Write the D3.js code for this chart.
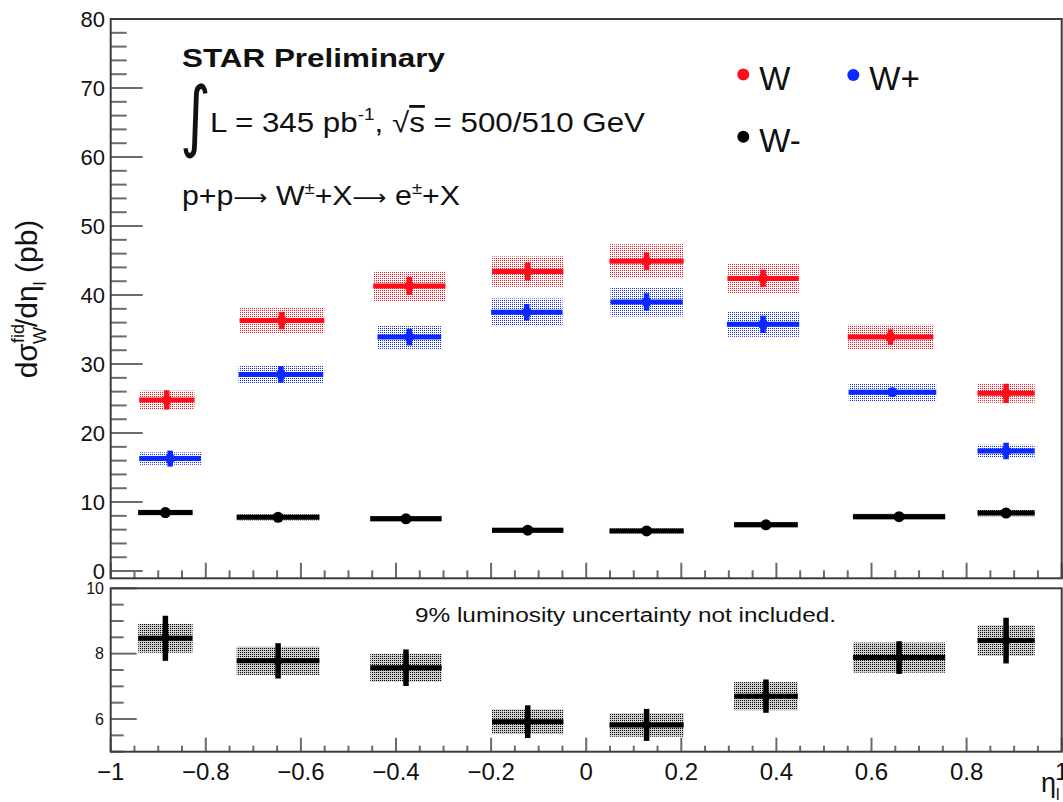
<!DOCTYPE html>
<html><head><meta charset="utf-8">
<script src="https://cdn.jsdelivr.net/npm/d3@7"></script>
<style>
html,body{margin:0;padding:0;background:#fff;}
svg{display:block;font-family:"Liberation Sans",Arial,Helvetica,sans-serif;}
</style></head>
<body><svg id="c" width="1063" height="802"></svg>
<script>
// ---- data ----
// W (red)
const etaW   = [-0.882,-0.640,-0.372,-0.123,0.127,0.372,0.640,0.883];
const exW    = [0.058,0.089,0.076,0.075,0.078,0.075,0.090,0.060];
const valW   = [24.8,36.3,41.3,43.4,44.9,42.4,33.9,25.75];
const statW  = [1.4,1.26,1.3,1.3,1.26,1.26,1.13,1.4];
const sysW   = [1.35,1.9,2.2,2.2,2.46,2.25,1.8,1.35];
// W+ (blue)
const etaWp  = [-0.875,-0.642,-0.372,-0.125,0.127,0.372,0.644,0.883];
const exWp   = [0.065,0.089,0.067,0.075,0.076,0.076,0.092,0.060];
const valWp  = [16.3,28.5,33.9,37.5,39.0,35.75,25.9,17.4];
const statWp = [1.16,1.2,1.2,1.2,1.26,1.26,0.6,1.2];
const sysWp  = [0.9,1.3,1.7,2.0,2.1,1.8,1.3,0.9];
// W- (black)
const etaWm  = [-0.885,-0.648,-0.379,-0.123,0.127,0.378,0.658,0.883];
const exWm   = [0.057,0.087,0.075,0.075,0.078,0.067,0.097,0.060];
const valWm  = [8.47,7.78,7.57,5.92,5.82,6.70,7.88,8.40];
const statWm = [0.69,0.54,0.56,0.50,0.49,0.51,0.50,0.70];
const sysWm  = [0.44,0.43,0.43,0.38,0.36,0.43,0.46,0.47];
// legend
const legendNames = ["W","W+","W-"];

const RED="#ff0d1a", BLUE="#0a28ff", BLACK="#000";
const svg=d3.select("#c");

const x=d3.scaleLinear().domain([-1,1]).range([110.7,1061.7]);
const yT=d3.scaleLinear().domain([-1.05,80]).range([578.3,19]);
const yB=d3.scaleLinear().domain([5,10]).range([751.7,588.3]);

// dotted fill patterns
const defs=svg.append("defs");
function pat(id,col,bg){
  const p=defs.append("pattern").attr("id",id).attr("patternUnits","userSpaceOnUse").attr("width",2).attr("height",2);
  if(bg) p.append("rect").attr("width",2).attr("height",2).attr("fill",bg);
  p.append("rect").attr("x",0).attr("y",0).attr("width",1).attr("height",1).attr("fill",col);
}
pat("pr",RED);
pat("pb",BLUE);
pat("pk","#000","#cfcfcf");

function series(g,y,eta,ex,val,stat,sys,col,patId,r,lw){
  const d=eta.map((e,i)=>({e,ex:ex[i],v:val[i],s:stat[i],y:sys[i]}));
  g.selectAll(null).data(d).enter().append("rect")
    .attr("x",d=>x(d.e-d.ex)).attr("width",d=>x(d.e+d.ex)-x(d.e-d.ex))
    .attr("y",d=>y(d.v+d.y)).attr("height",d=>y(d.v-d.y)-y(d.v+d.y))
    .attr("fill","url(#"+patId+")");
  g.selectAll(null).data(d).enter().append("line")
    .attr("x1",d=>x(d.e-d.ex)).attr("x2",d=>x(d.e+d.ex))
    .attr("y1",d=>y(d.v)).attr("y2",d=>y(d.v))
    .attr("stroke",col).attr("stroke-width",lw);
  g.selectAll(null).data(d).enter().append("line")
    .attr("x1",d=>x(d.e)).attr("x2",d=>x(d.e))
    .attr("y1",d=>y(d.v-d.s)).attr("y2",d=>y(d.v+d.s))
    .attr("stroke",col).attr("stroke-width",lw+0.5);
  g.selectAll(null).data(d).enter().append("circle")
    .attr("cx",d=>x(d.e)).attr("cy",d=>y(d.v)).attr("r",r).attr("fill",col);
}

const TICK="#6a6a6a", FRAME="#3c3c3c";
function frame(y0,y1){
  svg.append("rect").attr("x",x.range()[0]).attr("y",y1).attr("width",x.range()[1]-x.range()[0])
   .attr("height",y0-y1).attr("fill","none").attr("stroke",FRAME).attr("stroke-width",2);
}

// ---- top panel ----
const gT=svg.append("g");
const xMinor=d3.range(-1,1.0001,0.05), xMajor=d3.ticks(-1,1,10);
function xTicks(yb,majL,minL){
  svg.append("g").selectAll("line").data(xMinor).enter().append("line")
   .attr("x1",d=>x(d)).attr("x2",d=>x(d)).attr("y1",yb).attr("y2",d=>yb-(xMajor.some(m=>Math.abs(m-d)<1e-6)?majL:minL))
   .attr("stroke",TICK).attr("stroke-width",2);
}
xTicks(yT.range()[0],15.5,8);
const yTMinor=d3.range(0,80.001,2), yTMajor=d3.ticks(0,80,8);
svg.append("g").selectAll("line").data(yTMinor).enter().append("line")
  .attr("x1",x.range()[0]).attr("x2",d=>x.range()[0]+(d%10===0?32:16))
  .attr("y1",d=>yT(d)).attr("y2",d=>yT(d)).attr("stroke",TICK).attr("stroke-width",2);
svg.append("g").selectAll("text").data(yTMajor).enter().append("text")
  .attr("x",105).attr("y",d=>yT(d)).attr("dy","0.36em").attr("text-anchor","end")
  .attr("font-size",22).attr("fill","#111").text(d=>d);
frame(yT.range()[0],yT.range()[1]);

series(gT,yT,etaWm,exWm,valWm,statWm,sysWm,BLACK,"pk",5.5,5);
series(gT,yT,etaWp,exWp,valWp,statWp,sysWp,BLUE,"pb",5,5);
series(gT,yT,etaW,exW,valW,statW,sysW,RED,"pr",5,5);

// ---- bottom panel ----
const gB=svg.append("g");
xTicks(yB.range()[0],14,6);
const yBMinor=d3.range(5,10.001,0.5), yBMajor=yB.ticks(3);
svg.append("g").selectAll("line").data(yBMinor).enter().append("line")
  .attr("x1",x.range()[0]).attr("x2",d=>x.range()[0]+(yBMajor.includes(d)?26:13))
  .attr("y1",d=>yB(d)).attr("y2",d=>yB(d)).attr("stroke",TICK).attr("stroke-width",2);
svg.append("g").selectAll("text").data(yBMajor).enter().append("text")
  .attr("x",104).attr("y",d=>yB(d)).attr("dy","0.36em").attr("text-anchor","end")
  .attr("font-size",16).attr("fill","#111").text(d=>d);
frame(yB.range()[0],yB.range()[1]);
series(gB,yB,etaWm,exWm,valWm,statWm,sysWm,BLACK,"pk",4.5,5);

// x labels
const fmt=d3.format("~g");
svg.append("g").selectAll("text").data(xMajor).enter().append("text")
  .attr("x",d=>x(d)).attr("y",780).attr("text-anchor","middle").attr("font-size",24).attr("fill","#111")
  .text(d=>fmt(d));
// x title
const xt=svg.append("text").attr("x",1041).attr("y",792).attr("font-size",27).attr("fill","#111");
xt.append("tspan").text("η");
xt.append("tspan").attr("font-size",16).attr("dy",8).text("l");

// y title
const yt=svg.append("text").attr("transform","translate(37,299) rotate(-90)").attr("text-anchor","middle")
  .attr("font-size",30).attr("fill","#111");
yt.append("tspan").text("dσ");
yt.append("tspan").attr("font-size",18).attr("dy",-13).text("fid");
yt.append("tspan").attr("font-size",18).attr("dx",-20).attr("dy",22).text("W");
yt.append("tspan").attr("dy",-9).text("/dη");
yt.append("tspan").attr("font-size",18).attr("dy",9).text("l");
yt.append("tspan").attr("dy",-9).text(" (pb)");

// annotations
svg.append("text").attr("x",182).attr("y",67).attr("font-size",25).attr("font-weight","bold")
  .attr("textLength",263).attr("lengthAdjust","spacingAndGlyphs").attr("fill","#111").text("STAR Preliminary");
svg.append("text").attr("transform","translate(180,142) scale(0.8,1.05)").attr("font-size",74).attr("font-family","DejaVu Sans")
  .attr("fill","#111").text("∫");
const l2=svg.append("text").attr("x",210).attr("y",132).attr("font-size",28).attr("fill","#111")
  .attr("textLength",435).attr("lengthAdjust","spacingAndGlyphs");
l2.append("tspan").text("L = 345 pb");
l2.append("tspan").attr("font-size",17).attr("dy",-12).text("-1");
l2.append("tspan").attr("dy",12).text(", √");
l2.append("tspan").style("text-decoration","overline").text("s");
l2.append("tspan").text(" = 500/510 GeV");
const l3=svg.append("text").attr("x",182).attr("y",205).attr("font-size",28).attr("fill","#111")
  .attr("textLength",278).attr("lengthAdjust","spacingAndGlyphs");
l3.append("tspan").text("p+p");
l3.append("tspan").attr("font-family","DejaVu Sans").attr("font-size",22).text("⟶");
l3.append("tspan").text(" W");
l3.append("tspan").attr("font-size",17).attr("dy",-11).text("±");
l3.append("tspan").attr("dy",11).text("+X");
l3.append("tspan").attr("font-family","DejaVu Sans").attr("font-size",22).text("⟶");
l3.append("tspan").text(" e");
l3.append("tspan").attr("font-size",17).attr("dy",-11).text("±");
l3.append("tspan").attr("dy",11).text("+X");

svg.append("text").attr("x",415).attr("y",622).attr("font-size",20).attr("fill","#111")
  .attr("textLength",421).attr("lengthAdjust","spacingAndGlyphs").text("9% luminosity uncertainty not included.");

// legend
const legCols=[RED,BLUE,BLACK], legX=[743.3,853.3,743.3], legY=[74.5,75,136.7];
const lg=svg.append("g").selectAll("g").data(legendNames).enter().append("g");
lg.append("circle").attr("cx",(d,i)=>legX[i]).attr("cy",(d,i)=>legY[i]).attr("r",6).attr("fill",(d,i)=>legCols[i]);
lg.append("text").attr("x",(d,i)=>legX[i]+16).attr("y",(d,i)=>legY[i]+15).attr("font-size",33).attr("fill","#111").text(d=>d);
</script></body></html>
